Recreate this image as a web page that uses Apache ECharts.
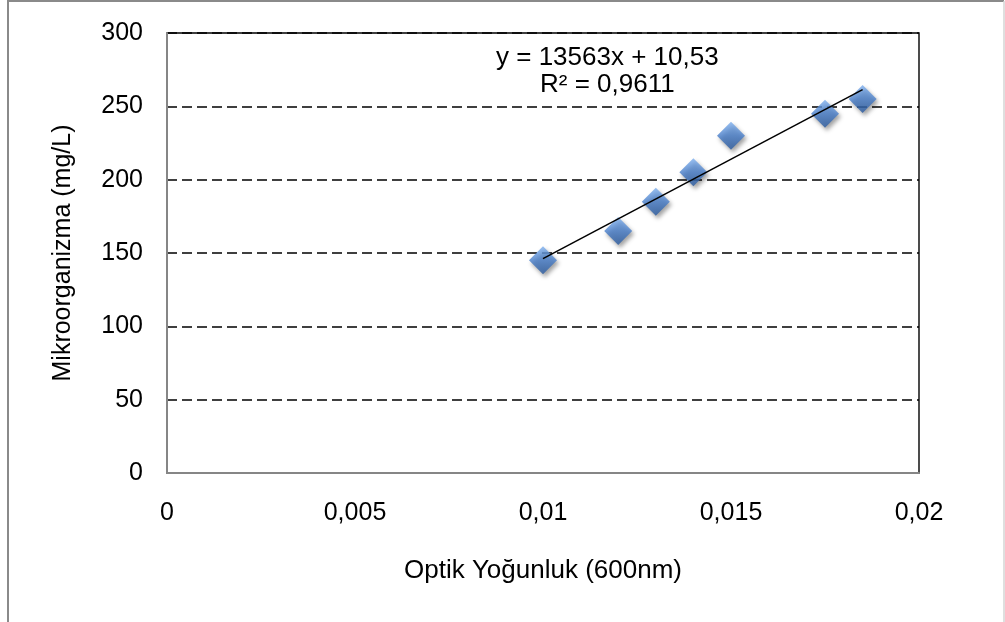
<!DOCTYPE html>
<html>
<head>
<meta charset="utf-8">
<script src="https://cdn.jsdelivr.net/npm/echarts@6/dist/echarts.min.js"></script>
<style>
  html, body { margin: 0; padding: 0; background: #ffffff; }
  #chart { width: 1005px; height: 622px; }
</style>
</head>
<body>
<div id="chart"></div>
<script>
// Optical density at 600 nm versus microorganism concentration
const opticalDensity = [0.010, 0.012, 0.013, 0.014, 0.015, 0.0175, 0.0185];
const concentration  = [145, 165, 185, 205, 230, 245, 255];

// Linear trendline reported on the chart
const trendSlope = 13563;
const trendIntercept = 10.53;
const trendRange = [0.010, 0.0185];
const equationText = 'y = 13563x + 10,53';
const r2Text = 'R² = 0,9611';

const xTickLabels = { 0: '0', 0.005: '0,005', 0.01: '0,01', 0.015: '0,015', 0.02: '0,02' };
const xTitle = 'Optik Yoğunluk (600nm)';
const yTitle = 'Mikroorganizma (mg/L)';

const points = opticalDensity.map((x, i) => [x, concentration[i]]);
const trendPoints = trendRange.map(x => [x, trendSlope * x + trendIntercept]);

const FONT = '"Liberation Sans", Arial, sans-serif';

const chart = echarts.init(document.getElementById('chart'), null, { renderer: 'canvas' });

chart.setOption({
  backgroundColor: '#ffffff',
  animation: false,
  grid: {
    left: 167, top: 33, right: 86, bottom: 149,
    show: true, borderColor: '#000000', borderWidth: 1.4, backgroundColor: '#ffffff'
  },
  xAxis: {
    type: 'value', min: 0, max: 0.02, interval: 0.005,
    name: xTitle, nameLocation: 'middle', nameGap: 85,
    nameTextStyle: { fontFamily: FONT, fontSize: 26, color: '#000' },
    axisLine: { show: true, onZero: false, lineStyle: { color: '#868686', width: 2 } },
    axisTick: { show: false },
    splitLine: { show: false },
    axisLabel: {
      fontFamily: FONT, fontSize: 25, color: '#000', margin: 28,
      formatter: v => xTickLabels[+v.toFixed(3)] ?? String(v).replace('.', ',')
    }
  },
  yAxis: {
    type: 'value', min: 0, max: 300, interval: 50,
    name: yTitle, nameLocation: 'middle', nameGap: 91,
    nameTextStyle: { fontFamily: FONT, fontSize: 25, color: '#000' },
    axisLine: { show: true, lineStyle: { color: '#868686', width: 2 } },
    axisTick: { show: false },
    splitLine: { show: true, lineStyle: { color: '#000000', width: 1.5, type: [10, 5] } },
    axisLabel: { fontFamily: FONT, fontSize: 25, color: '#000', margin: 24 }
  },
  series: [
    {
      type: 'scatter',
      data: points,
      symbol: 'diamond',
      symbolSize: [28, 28],
      z: 3,
      itemStyle: {
        color: {
          type: 'linear', x: 0, y: 0, x2: 0, y2: 1,
          colorStops: [
            { offset: 0, color: '#7fb0ee' },
            { offset: 0.5, color: '#4a80cc' },
            { offset: 1, color: '#2a5a9e' }
          ]
        },
        shadowBlur: 4,
        shadowOffsetX: 2,
        shadowOffsetY: 3,
        shadowColor: 'rgba(0,0,0,0.45)'
      }
    },
    {
      type: 'line',
      data: trendPoints,
      showSymbol: false,
      symbol: 'none',
      z: 4,
      lineStyle: { color: '#000000', width: 1.5 }
    }
  ],
  graphic: [
    {
      type: 'polyline', silent: true, z: 100,
      shape: { points: [[8, 622], [8, 1], [1004, 1]] },
      style: { stroke: '#8a8a8a', lineWidth: 2, fill: null }
    },
    {
      type: 'line', silent: true, z: 100,
      shape: { x1: 1004, y1: 1, x2: 1004, y2: 622 },
      style: { stroke: '#d4d4d4', lineWidth: 1.5 }
    },
    {
      type: 'text', left: 496, top: 45, z: 100,
      style: { text: equationText, fontFamily: FONT, fontSize: 26, fill: '#000' }
    },
    {
      type: 'text', left: 540, top: 72, z: 100,
      style: { text: r2Text, fontFamily: FONT, fontSize: 26, fill: '#000' }
    }
  ]
});
</script>
</body>
</html>
